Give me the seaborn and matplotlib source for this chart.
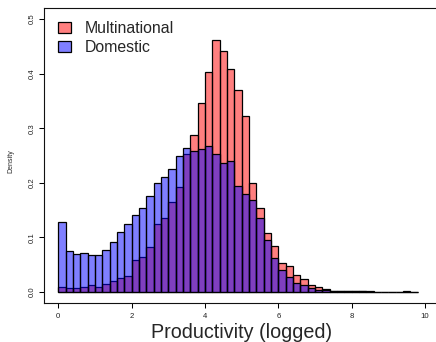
import numpy as np
import pandas as pd
import matplotlib
matplotlib.use("Agg")
import matplotlib.pyplot as plt
import seaborn as sns
from matplotlib.patches import Patch

# ---- data (densities per 0.2-wide bin) ----
bin_start = 0.0
bin_width = 0.2
multinational = [0.010, 0.008, 0.008, 0.009, 0.013, 0.010, 0.014, 0.020, 0.025, 0.030,
                 0.058, 0.065, 0.083, 0.124, 0.136, 0.164, 0.193, 0.252, 0.288, 0.347,
                 0.403, 0.461, 0.441, 0.409, 0.370, 0.323, 0.200, 0.154, 0.108, 0.084,
                 0.053, 0.048, 0.031, 0.024, 0.0135, 0.0085, 0.005, 0.002, 0.002, 0.002,
                 0.0015, 0.001, 0.001, 0.0005, 0.0005, 0.0005, 0.0005, 0.002, 0.0005]
domestic = [0.128, 0.076, 0.0705, 0.071, 0.068, 0.067, 0.077, 0.091, 0.110, 0.125,
            0.141, 0.154, 0.176, 0.200, 0.211, 0.226, 0.250, 0.264, 0.258, 0.262,
            0.268, 0.253, 0.237, 0.240, 0.194, 0.180, 0.168, 0.135, 0.096, 0.063,
            0.041, 0.028, 0.017, 0.013, 0.0077, 0.004, 0.0035, 0.0015, 0.002, 0.002,
            0.001, 0.001, 0.0005, 0.0003, 0.0003, 0.0003, 0.0003, 0.0005, 0.0003]
series_labels = ["Multinational", "Domestic"]
x_ticks = [0, 2, 4, 6, 8, 10]
y_ticks = [0.0, 0.1, 0.2, 0.3, 0.4, 0.5]
x_label = "Productivity (logged)"
y_label = "Density"

n_bins = len(domestic)
edges = bin_start + bin_width * np.arange(n_bins + 1)
centers = edges[:-1] + bin_width / 2
df = pd.DataFrame({"x": centers, "multinational": multinational, "domestic": domestic})

sns.set_style("ticks")
plt.rcParams["font.family"] = ["Liberation Sans", "DejaVu Sans"]

W, H = 436, 342
fig = plt.figure(figsize=(W / 100, H / 100), dpi=100)
ax_left, ax_right, ax_top, ax_bot = 44, 436, 7.5, 302.8
ax = fig.add_axes([ax_left / W, 1 - ax_bot / H, (ax_right - ax_left) / W, (ax_bot - ax_top) / H])

common = dict(binwidth=bin_width, binrange=(edges[0], edges[-1]), stat="count", alpha=0.5,
              edgecolor="black", linewidth=0.9, ax=ax)
sns.histplot(data=df, x="x", weights="multinational", color="red", **common)
sns.histplot(data=df, x="x", weights="domestic", color="blue", **common)

# axis scaling (R-like extended range)
px0, ppu = 58.3, 36.67
ax.set_xlim((ax_left - px0) / ppu, (ax_right - px0) / ppu)
py0, ppy = 292.0, 546.0
ax.set_ylim((py0 - ax_bot) / ppy, (py0 - ax_top) / ppy)

ax.set_xticks(x_ticks)
ax.set_xticklabels([str(t) for t in x_ticks])
ax.set_yticks(y_ticks)
ax.set_yticklabels([f"{t:.1f}" for t in y_ticks])
ax.tick_params(axis="both", direction="out", length=3.6, width=0.75, color="black",
               labelsize=5.6, labelcolor="#222222")
ax.tick_params(axis="y", labelrotation=90, pad=2)
ax.tick_params(axis="x", pad=4)
for lab in ax.get_yticklabels():
    lab.set_verticalalignment("center")

for side in ["left", "top", "bottom"]:
    ax.spines[side].set_visible(True)
    ax.spines[side].set_linewidth(0.8)
    ax.spines[side].set_color("#111111")
ax.spines["right"].set_visible(False)

ax.set_xlabel(x_label, fontsize=14.2)
ax.xaxis.set_label_coords((241.7 - ax_left) / (ax_right - ax_left), -(338 - ax_bot) / (ax_bot - ax_top))
ax.xaxis.label.set_verticalalignment("baseline")
ax.set_ylabel(y_label, fontsize=5)
ax.yaxis.set_label_coords(-(ax_left - 11) / (ax_right - ax_left), 0.48)
ax.yaxis.label.set_verticalalignment("center")

handles = [Patch(facecolor=(1, 0, 0, 0.5), edgecolor="black", linewidth=0.9),
           Patch(facecolor=(0, 0, 1, 0.5), edgecolor="black", linewidth=0.9)]
ax.legend(handles, series_labels, loc="upper left", frameon=False,
          bbox_to_anchor=(58.3 / W, 1 - 21.0 / H), bbox_transform=fig.transFigure,
          fontsize=11.4, borderpad=0, borderaxespad=0, handlelength=0.78, handleheight=0.67,
          handletextpad=0.86, labelspacing=0.25)

fig.savefig("out.png", dpi=100)
